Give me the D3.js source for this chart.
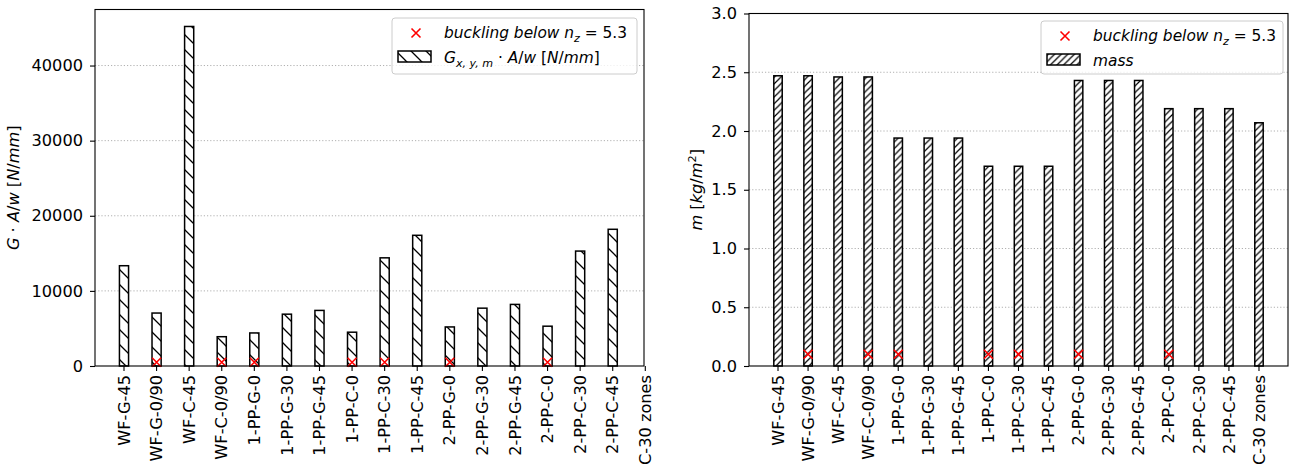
<!DOCTYPE html>
<html>
<head>
<meta charset="utf-8">
<script src="https://cdn.jsdelivr.net/npm/d3@7"></script>
<style>
  html, body { margin: 0; padding: 0; background: #fff; }
  svg { display: block; font-family: "DejaVu Sans", sans-serif; }
</style>
</head>
<body>
<svg id="chart" width="1296" height="471"></svg>
<script>
// Laminate configurations shown on both panels
const categories = ["WF-G-45", "WF-G-0/90", "WF-C-45", "WF-C-0/90",
  "1-PP-G-0", "1-PP-G-30", "1-PP-G-45", "1-PP-C-0", "1-PP-C-30", "1-PP-C-45",
  "2-PP-G-0", "2-PP-G-30", "2-PP-G-45", "2-PP-C-0", "2-PP-C-30", "2-PP-C-45",
  "C-30 zones"];

// Shear stiffness per width G·A/w [N/mm] (no value for the zoned panel)
const shearStiffness = [13350, 7050, 45200, 3900, 4400, 6900, 7400, 4500,
  14400, 17400, 5200, 7700, 8200, 5300, 15300, 18200, null];

// Areal mass m [kg/m²]
const mass = [2.47, 2.47, 2.46, 2.46, 1.94, 1.94, 1.94, 1.70, 1.70, 1.70,
  2.43, 2.43, 2.43, 2.19, 2.19, 2.19, 2.07];

// Configurations that buckle below n_z = 5.3
const buckling = [false, true, false, true, true, false, false, true, true,
  false, true, false, false, true, false, false, false];

// Marker heights for the buckling flags on each panel
const bucklingMarkLeft = 500;
const bucklingMarkRight = 0.1;

const leftTicks = [0, 10000, 20000, 30000, 40000];
const rightTicks = [0, 0.5, 1.0, 1.5, 2.0, 2.5, 3.0];

const svg = d3.select("#chart");
const FONT = 16.2;
const LEGEND_FONT = 15.4;
const barWidth = 0.28;

// hatch patterns
const defs = svg.append("defs");
function hatch(id, s, dir, w) {
  const p = defs.append("pattern").attr("id", id)
    .attr("patternUnits", "userSpaceOnUse")
    .attr("width", s).attr("height", s);
  let d;
  if (dir === "back") {
    d = `M-2,-2L${s + 2},${s + 2}M-2,${s - 2}L2,${s + 2}M${s - 2},-2L${s + 2},2`;
  } else {
    d = `M-2,${s + 2}L${s + 2},-2M-2,2L2,-2M${s - 2},${s + 2}L${s + 2},${s - 2}`;
  }
  p.append("rect").attr("width", s).attr("height", s).attr("fill", "#fff");
  p.append("path").attr("d", d).attr("stroke", "#000")
    .attr("stroke-width", w).attr("fill", "none");
}
hatch("hatchBack", 15, "back", 1.3);
hatch("hatchFwd", 6.6, "fwd", 1.2);

// write a run of text pieces with italic / sub / superscript styling
function richText(sel, x, y, parts, size) {
  const t = sel.append("text").attr("x", x).attr("y", y)
    .attr("font-size", size).attr("fill", "#000");
  let shift = 0;
  parts.forEach(p => {
    const ts = t.append("tspan").text(p.t);
    if (p.i) ts.attr("font-style", "italic");
    let target = 0, fs = size;
    if (p.sub) { target = size * 0.25; fs = size * 0.72; }
    if (p.sup) { target = -size * 0.4; fs = size * 0.7; }
    ts.attr("font-size", fs).attr("dy", target - shift);
    shift = target;
  });
  return t;
}

function xMark(g, cx, cy, r) {
  g.append("path")
    .attr("d", `M${cx - r},${cy - r}L${cx + r},${cy + r}M${cx - r},${cy + r}L${cx + r},${cy - r}`)
    .attr("stroke", "#ff0000").attr("stroke-width", 1.6).attr("fill", "none");
}

function panel(cfg) {
  const g = svg.append("g");
  const x = d3.scaleLinear().domain(cfg.xDomain).range([cfg.x0, cfg.x1]);
  const y = d3.scaleLinear().domain(cfg.yDomain).range([cfg.y1, cfg.y0]);

  // dotted horizontal grid
  g.append("g").selectAll("line").data(cfg.ticks.filter(v => v > 0)).join("line")
    .attr("x1", cfg.x0).attr("x2", cfg.x1)
    .attr("y1", d => y(d)).attr("y2", d => y(d))
    .attr("stroke", "#b0b0b0").attr("stroke-width", 1)
    .attr("stroke-dasharray", "1.2,2");

  // bars
  const idx = d3.range(categories.length).filter(i => cfg.values[i] != null);
  g.append("g").selectAll("rect").data(idx).join("rect")
    .attr("x", i => x(i - barWidth / 2))
    .attr("width", i => x(i + barWidth / 2) - x(i - barWidth / 2))
    .attr("y", i => y(cfg.values[i]))
    .attr("height", i => y(0) - y(cfg.values[i]))
    .attr("fill", `url(#${cfg.hatch})`)
    .attr("stroke", "#000").attr("stroke-width", 1.5);

  // buckling markers
  const mk = g.append("g");
  d3.range(categories.length).filter(i => buckling[i])
    .forEach(i => xMark(mk, x(i), y(cfg.mark), 4.5));

  // frame
  g.append("rect").attr("x", cfg.x0).attr("y", cfg.y0)
    .attr("width", cfg.x1 - cfg.x0).attr("height", cfg.y1 - cfg.y0)
    .attr("fill", "none").attr("stroke", "#000").attr("stroke-width", 1.1);

  // y axis
  const ya = g.append("g").attr("transform", `translate(${cfg.x0},0)`)
    .call(d3.axisLeft(y).tickValues(cfg.ticks).tickFormat(cfg.fmt)
      .tickSize(5).tickPadding(7));
  ya.select(".domain").remove();
  ya.selectAll("line").attr("stroke", "#000").attr("stroke-width", 1.1);
  ya.selectAll("text").attr("font-size", FONT).attr("fill", "#000")
    .attr("font-family", "DejaVu Sans");

  // x axis with rotated category labels
  const xa = g.append("g").attr("transform", `translate(0,${cfg.y1})`);
  categories.forEach((c, i) => {
    const px = x(i);
    xa.append("line").attr("x1", px).attr("x2", px).attr("y1", 0).attr("y2", 5)
      .attr("stroke", "#000").attr("stroke-width", 1.1);
    xa.append("text").attr("transform", `translate(${px},9) rotate(-90)`)
      .attr("text-anchor", "end").attr("dy", "0.35em")
      .attr("font-size", FONT).attr("fill", "#000").text(c);
  });

  // y label
  const yl = richText(g, 0, 0, cfg.yLabel, FONT);
  yl.attr("text-anchor", "middle").attr("x", null).attr("y", null)
    .attr("transform", `translate(${cfg.yLabelX},${(cfg.y0 + cfg.y1) / 2}) rotate(-90)`);

  // legend
  const lg = g.append("g");
  const L = cfg.legend;
  lg.append("rect").attr("x", L.x).attr("y", L.y).attr("width", L.w).attr("height", L.h)
    .attr("rx", 3).attr("fill", "#fff").attr("fill-opacity", 0.8)
    .attr("stroke", "#cccccc").attr("stroke-width", 1);
  xMark(lg, L.x + 24, L.y + 15, 4.5);
  richText(lg, L.x + 52, L.y + 20, [
    { t: "buckling below ", i: true }, { t: "n", i: true }, { t: "z", i: true, sub: true },
    { t: " = 5.3" }], LEGEND_FONT);
  lg.append("rect").attr("x", L.x + 6).attr("y", L.y + 33).attr("width", 33).attr("height", 11)
    .attr("fill", `url(#${cfg.hatch})`).attr("stroke", "#000").attr("stroke-width", 1.5);
  richText(lg, L.x + 52, L.y + 45, L.label, LEGEND_FONT);
}

panel({
  x0: 95, x1: 644, y0: 9.5, y1: 366,
  xDomain: [-0.89, 15.96], yDomain: [0, 47460],
  values: shearStiffness, ticks: leftTicks, fmt: d3.format("d"),
  mark: bucklingMarkLeft, hatch: "hatchBack",
  yLabelX: 19,
  yLabel: [{ t: "G", i: true }, { t: " · " }, { t: "A", i: true }, { t: "/" },
    { t: "w", i: true }, { t: " [" }, { t: "N", i: true }, { t: "/" },
    { t: "mm", i: true }, { t: "]" }],
  legend: {
    x: 392, y: 18, w: 245, h: 56,
    label: [{ t: "G", i: true }, { t: "x, y, m", i: true, sub: true },
      { t: " · " }, { t: "A", i: true }, { t: "/" }, { t: "w", i: true },
      { t: " [" }, { t: "N", i: true }, { t: "/" }, { t: "mm", i: true }, { t: "]" }]
  }
});

panel({
  x0: 749, x1: 1288, y0: 13.5, y1: 366,
  xDomain: [-0.965, 16.965], yDomain: [0, 3],
  values: mass, ticks: rightTicks, fmt: d3.format(".1f"),
  mark: bucklingMarkRight, hatch: "hatchFwd",
  yLabelX: 702,
  yLabel: [{ t: "m", i: true }, { t: " [" }, { t: "kg", i: true }, { t: "/" },
    { t: "m", i: true }, { t: "2", sup: true }, { t: "]" }],
  legend: {
    x: 1041, y: 21, w: 242, h: 53,
    label: [{ t: "mass", i: true }]
  }
});
</script>
</body>
</html>
